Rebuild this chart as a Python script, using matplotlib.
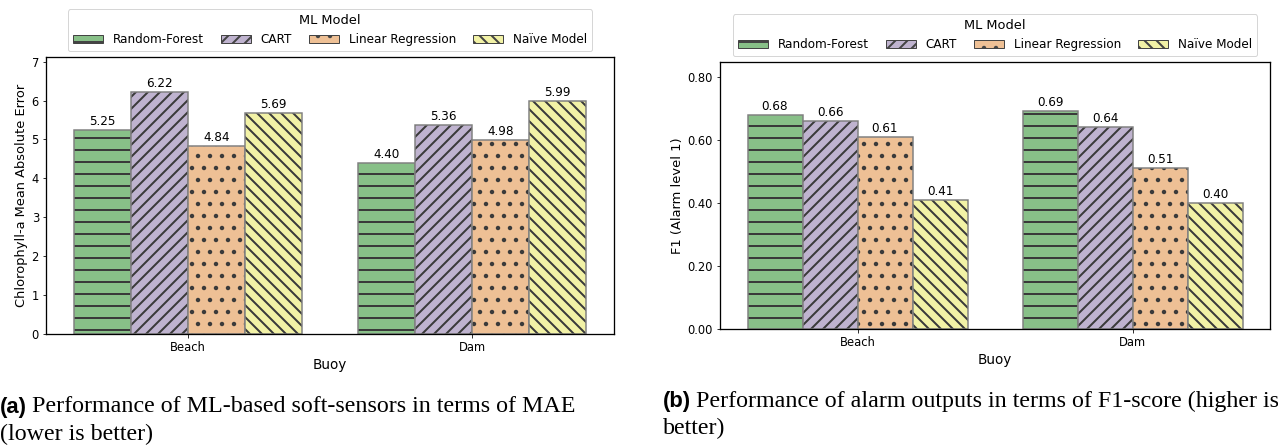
import numpy as np
import matplotlib
matplotlib.use('Agg')
import matplotlib.pyplot as plt
import matplotlib.patches as mpatches
import seaborn as sns

buoys = ['Beach', 'Dam']
models = ['Random-Forest', 'CART', 'Linear Regression', 'Naïve Model']

# MAE of chlorophyll-a soft sensors
mae_rf = [5.25, 4.40]
mae_cart = [6.22, 5.36]
mae_lr = [4.84, 4.98]
mae_naive = [5.69, 5.99]

# F1 score for alarm level 1
f1_rf = [0.68, 0.69]
f1_cart = [0.66, 0.64]
f1_lr = [0.61, 0.51]
f1_naive = [0.41, 0.40]

hatches = ['-', '//', '.', '\\\\']
colors = sns.color_palette('Accent', 4, desat=0.75)

plt.rcParams['font.family'] = ['DejaVu Sans']
plt.rcParams['hatch.linewidth'] = 2.0

W, H = 1278, 447
fig = plt.figure(figsize=(W / 72, H / 72), dpi=72)


def bars(ax, series, ylabel, fmt, ylim, ticks, tickfmt):
    x = np.arange(len(buoys))
    width = 0.2
    for i, (vals, h, c) in enumerate(zip(series, hatches, colors)):
        pos = x + (i - 1.5) * width
        ax.bar(pos, vals, width, color=c, edgecolor='#3a3a3a', hatch=h, linewidth=0)
        ax.bar(pos, vals, width, fill=False, edgecolor='#808080', linewidth=1.5)
        for p, v in zip(pos, vals):
            ax.annotate(fmt % v, (p, v), xytext=(0, 2), textcoords='offset points',
                        ha='center', va='bottom', fontsize=12)
    ax.set_xlim(-0.5, 1.5)
    ax.set_ylim(*ylim)
    ax.set_xticks(x)
    ax.set_xticklabels(buoys, fontsize=11.5)
    ax.set_yticks(ticks)
    ax.set_yticklabels([tickfmt % t for t in ticks], fontsize=11.5)
    ax.set_xlabel('Buoy', fontsize=13.5)
    ax.set_ylabel(ylabel, fontsize=13)
    for s in ax.spines.values():
        s.set_linewidth(1.3)
    handles = [mpatches.Patch(facecolor=c, edgecolor='#444444', hatch=h, linewidth=1)
               for c, h in zip(colors, hatches)]
    leg = ax.legend(handles, models, title='ML Model', ncol=4, loc='lower center',
                    bbox_to_anchor=(0.5, 1.0), fontsize=12, title_fontsize=13,
                    handlelength=2.5, columnspacing=1.45, borderaxespad=0.5)
    return leg


ax1 = fig.add_axes([46 / W, (H - 334) / H, (614 - 46) / W, (334 - 57) / H])
bars(ax1, [mae_rf, mae_cart, mae_lr, mae_naive], 'Chlorophyll-a Mean Absolute Error',
     '%.2f', (0, 7.12), list(range(8)), '%d')

ax2 = fig.add_axes([720 / W, (H - 329) / H, (1270 - 720) / W, (329 - 62) / H])
bars(ax2, [f1_rf, f1_cart, f1_lr, f1_naive], 'F1 (Alarm level 1)',
     '%.2f', (0, 0.847), [0, 0.2, 0.4, 0.6, 0.8], '%.2f')

# captions: bold sans label followed by serif text
captions = [
    (0, 407, '(a)', ['Performance of ML-based soft-sensors in terms of MAE', '(lower is better)']),
    (663, 401, '(b)', ['Performance of alarm outputs in terms of F1-score (higher is', 'better)']),
]
fig.canvas.draw()
r = fig.canvas.get_renderer()
for x0, y0, lab, lines in captions:
    t = fig.text(x0 / W, 1 - y0 / H, lab, family='Liberation Sans', weight='bold',
                 fontsize=22, va='center', ha='left')
    bb = t.get_window_extent(r)
    fig.text((bb.x1 + 5) / W, 1 - y0 / H, lines[0], family='Liberation Serif',
             fontsize=24, va='center', ha='left')
    fig.text(x0 / W, 1 - (y0 + 27) / H, lines[1], family='Liberation Serif',
             fontsize=24, va='center', ha='left')

fig.savefig('out.png', dpi=72)
